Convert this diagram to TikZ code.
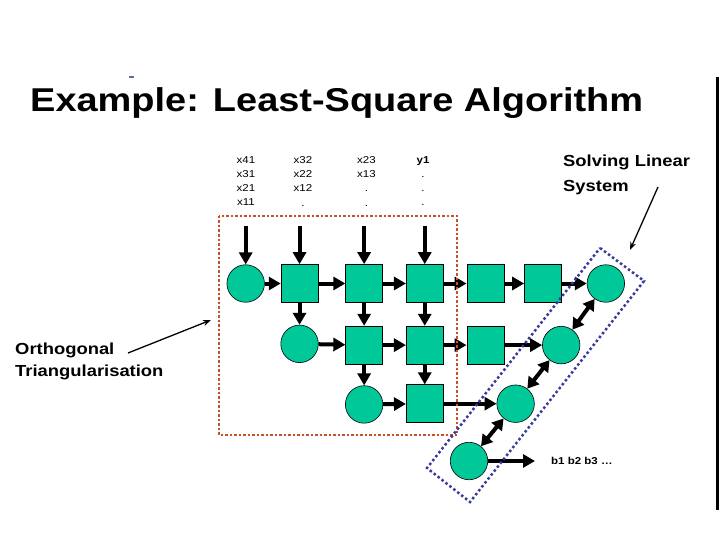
\documentclass[tikz,border=0pt]{standalone}
\usepackage{fontspec}
\setmainfont{Liberation Sans}[FakeStretch=1.15]
\usepackage{tikz}
\usetikzlibrary{arrows.meta,positioning}
\definecolor{cellgreen}{HTML}{00C898}
\definecolor{framered}{HTML}{C4532C}
\definecolor{frameblue}{HTML}{3A3A9C}
\definecolor{markblue}{HTML}{5A7090}

\begin{document}
\begin{tikzpicture}[
    x=1pt, y=-1pt,
    pe/.style={draw=black, line width=0.6pt, fill=cellgreen, minimum width=37pt, minimum height=38pt, inner sep=0pt},
    cc/.style={circle, draw=black, line width=0.6pt, fill=cellgreen, minimum size=37.5pt, inner sep=0pt},
    inlab/.style={anchor=north, align=center, inner sep=0pt, font=\fontsize{10}{14.3}\selectfont},
    callnote/.style={anchor=north west, align=left, inner sep=0pt, font=\fontsize{16}{22}\selectfont\bfseries},
    fat/.style={-{Triangle[length=12pt,width=13pt]}, line width=4pt},
    dbl/.style={{Triangle[length=11pt,width=13pt]}-{Triangle[length=11pt,width=13pt]}, line width=4pt},
    callout/.style={-{Stealth[length=8pt,width=6pt]}, line width=1.3pt},
    redframe/.style={draw=framered, line width=2.5pt, dash pattern=on 2.5pt off 2pt},
    blueframe/.style={draw=frameblue, line width=2.5pt, dash pattern=on 2.5pt off 2.5pt}
]
\useasboundingbox (0,0) rectangle (720,540);

% title and slide border
\node[anchor=base west, inner sep=0pt, font=\fontsize{33}{40}\selectfont\bfseries] (title) at (30,112) {Example: Least-Square Algorithm};
\draw[markblue, line width=1.2pt] (129,77) -- (134,77);
\draw[line width=3pt] (717.5,77) -- (717.5,510);

% input streams
\node[inlab] (in1) at (246,156) {x41\\x31\\x21\\x11};
\node[inlab] (in2) at (303,156) {x32\\x22\\x12\\.};
\node[inlab] (in3) at (366.5,156) {x23\\x13\\.\\.};
\node[inlab] (in4) at (423,156) {\textbf{y1}\\.\\.\\.};
\coordinate (top) at (0,226);

% array cells
\node[cc] (c11) at (245.7,283.5) {};
\node[pe, right=16pt of c11] (s12) {};
\node[pe, right=27pt of s12] (s13) {};
\node[pe, right=23pt of s13] (s14) {};
\node[pe, right=23pt of s14] (s15) {};
\node[pe, right=20pt of s15] (s16) {};
\node[cc, right=25pt of s16] (c17) {};

\node[cc, below=22pt of s12] (c22) {};
\node[pe, below=23pt of s13] (s23) {};
\node[pe, below=23pt of s14] (s24) {};
\node[pe, below=23pt of s15] (s25) {};
\node[cc, right=38pt of s25] (c27) {};

\node[cc, below=21pt of s23] (c33) {};
\node[pe, below=20pt of s24] (s34) {};
\node[cc, right=53pt of s34] (c35) {};

\node[cc] (c44) at (469,461) {};
\node[anchor=west, inner sep=0pt, font=\fontsize{10}{12}\selectfont\bfseries] (bout) at (551,461) {b1 b2 b3 \ldots};

% data flow
\draw[fat] (c11.north |- top) -- (c11);
\draw[fat] (s12.north |- top) -- (s12);
\draw[fat] (s13.north |- top) -- (s13);
\draw[fat] (s14.north |- top) -- (s14);

\draw[fat] (c11) -- (s12);
\draw[fat] (s12) -- (s13);
\draw[fat] (s13) -- (s14);
\draw[fat] (s14) -- (s15);
\draw[fat] (s15) -- (s16);
\draw[fat] (s16) -- (c17);

\draw[fat] (s12) -- (c22);
\draw[fat] (s13) -- (s23);
\draw[fat] (s14) -- (s24);
\draw[fat] (c22) -- (s23);
\draw[fat] (s23) -- (s24);
\draw[fat] (s24) -- (s25);
\draw[fat] (s25) -- (c27);

\draw[fat] (s23) -- (c33);
\draw[fat] (s24) -- (s34);
\draw[fat] (c33) -- (s34);
\draw[fat] (s34) -- (c35);

\draw[dbl] (c17) -- (c27);
\draw[dbl] (c27) -- (c35);
\draw[dbl] (c35) -- (c44);
\draw[fat] (c44) -- ([xshift=-16pt]bout.west);

% frames
\draw[redframe] (219,216) rectangle (457,435);
\draw[blueframe] (600,248) -- (644,281) -- (470,502) -- (427,468) -- cycle;

% callouts
\node[callnote, font=\fontsize{16}{25}\selectfont\bfseries] (solve) at (563,155) {Solving Linear\\System};
\coordinate (solvetail) at (658,187);
\coordinate (solvetip) at (630,250);
\draw[callout] (solvetail) -- (solvetip);

\node[callnote] (ortho) at (15,343) {Orthogonal\\Triangularisation};
\coordinate (orthotail) at (128,353);
\coordinate (orthotip) at (211,320);
\draw[callout] (orthotail) -- (orthotip);
\end{tikzpicture}
\end{document}
